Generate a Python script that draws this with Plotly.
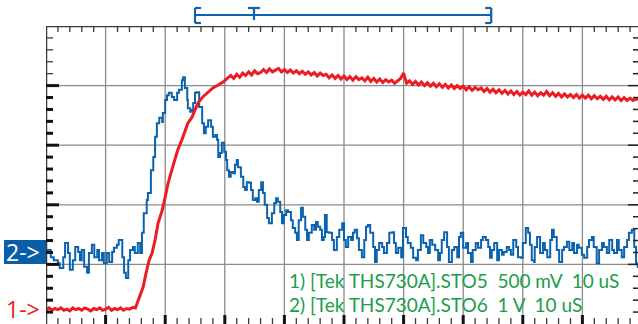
import plotly.graph_objects as go

# ---- data (time in microseconds, amplitude in screen divisions) ----
ch1_t = [0, 0.5, 1, 1.5, 2, 2.5, 3, 3.5, 4, 4.5, 5, 5.5, 6, 6.5, 7, 7.5, 8, 8.5, 9, 9.5,
         10, 10.5, 11, 11.5, 12, 12.5, 13, 13.5, 14, 14.6, 15.0,
         15.6, 16.3, 16.8, 17.3, 17.8, 18.3, 18.8, 19.5, 20.0, 20.5, 21.1, 21.6, 22.1, 22.8,
         23.3, 23.8, 24.5, 25.0, 25.5, 26.3, 27.2, 28.0, 28.9, 29.7, 30.5,
         31.0, 31.5, 32.0, 32.5, 33.0, 33.5, 34.0, 34.5, 35.0, 35.5, 36.0, 36.5, 37.0, 37.5, 38.0, 38.5, 39.0, 39.5,
         40.0, 40.5, 41.0, 41.5, 42.0, 42.5, 43.0, 43.5, 44.0, 44.5, 45.0, 45.5, 46.0, 46.5, 47.0, 47.5, 48.0, 48.5, 49.0, 49.5,
         50.0, 50.5, 51.0, 51.5, 52.0, 52.5, 53.0, 53.5, 54.0, 54.5, 55.0, 55.5, 56.0, 56.5, 57.0, 57.5, 58.0, 58.5, 59.0, 59.5,
         60.0, 60.5, 61.0, 61.5, 62.0, 62.5, 63.0, 63.5, 64.0, 64.5, 65.0, 65.5, 66.0, 66.5, 67.0, 67.5, 68.0, 68.5, 69.0, 69.5,
         70.0, 70.5, 71.0, 71.5, 72.0, 72.5, 73.0, 73.5, 74.0, 74.5, 75.0, 75.5, 76.0, 76.5, 77.0, 77.5, 78.0, 78.5, 79.0, 79.5,
         80.0, 80.5, 81.0, 81.5, 82.0, 82.5, 83.0, 83.5, 84.0, 84.5, 85.0, 85.5, 86.0, 86.5, 87.0, 87.5, 88.0, 88.5, 89.0, 89.5,
         90.0, 90.5, 91.0, 91.5, 92.0, 92.5, 93.0, 93.5, 94.0, 94.5, 95.0, 95.5, 96.0, 96.5, 97.0, 97.5, 98.0, 98.5, 99.0, 99.3]
ch1_v = [0.24, 0.27, 0.23, 0.26, 0.24, 0.27, 0.23, 0.25, 0.22, 0.27, 0.24, 0.26, 0.23, 0.27, 0.25, 0.22, 0.26, 0.24, 0.27, 0.23,
         0.25, 0.28, 0.23, 0.26, 0.24, 0.27, 0.23, 0.26, 0.25, 0.28, 0.27,
         0.44, 0.62, 0.86, 1.07, 1.19, 1.41, 1.69, 1.91, 2.13, 2.37, 2.58, 2.75, 2.92, 3.09,
         3.22, 3.37, 3.47, 3.59, 3.71, 3.81, 3.89, 3.96, 4.01, 4.06, 4.13,
         4.17, 4.12, 4.19, 4.14, 4.21, 4.17, 4.23, 4.18, 4.25, 4.20, 4.22, 4.27, 4.22, 4.28, 4.23, 4.26, 4.29, 4.23,
         4.27, 4.22, 4.26, 4.21, 4.25, 4.20, 4.24, 4.19, 4.23, 4.18, 4.22, 4.16, 4.21, 4.17, 4.19, 4.13, 4.18, 4.12, 4.17, 4.11,
         4.16, 4.10, 4.15, 4.09, 4.15, 4.10, 4.13, 4.08, 4.14, 4.07, 4.12, 4.06, 4.11, 4.05, 4.10, 4.06, 4.09, 4.04, 4.08, 4.12,
         4.21, 4.04, 4.08, 4.02, 4.07, 4.01, 4.06, 4.00, 4.05, 3.99, 4.04, 3.98, 4.03, 3.97, 4.02, 3.96, 4.01, 3.95, 4.00, 3.95,
         3.99, 3.93, 3.98, 3.92, 3.97, 3.93, 3.96, 3.90, 3.95, 3.89, 3.94, 3.88, 3.93, 3.87, 3.92, 3.86, 3.91, 3.85, 3.90, 3.84,
         3.89, 3.85, 3.91, 3.84, 3.89, 3.83, 3.88, 3.84, 3.90, 3.83, 3.88, 3.82, 3.87, 3.81, 3.86, 3.81, 3.85, 3.80, 3.85, 3.79,
         3.84, 3.79, 3.84, 3.78, 3.83, 3.78, 3.82, 3.77, 3.82, 3.76, 3.81, 3.76, 3.81, 3.75, 3.80, 3.75, 3.79, 3.75, 3.78, 3.76]

ch2_t = [0, 0.3, 0.8, 1.3, 2.0, 2.3, 2.9, 3.2, 3.7, 4.0, 4.5, 4.9, 5.4, 5.7, 6.0, 6.4, 6.9, 7.2, 7.7, 8.1,
         8.6, 8.9, 9.4, 9.7, 10.2, 10.6, 11.1, 11.4, 11.9, 12.2, 12.8, 13.1, 13.4, 13.8, 14.1, 14.6, 14.9, 15.4, 15.8, 16.1,
         16.4, 16.9, 17.1, 17.6, 18.0, 18.3, 18.6, 19.0, 19.5, 19.6, 20.0, 20.3, 20.6, 21.1, 21.5, 22.0, 22.3, 22.8, 23.0, 23.3,
         23.7, 23.8, 24.2, 24.5, 24.7, 25.0, 25.3, 25.7, 26.2, 26.5, 26.8, 27.2, 27.7, 28.0, 28.4, 28.7, 28.9, 29.2, 29.5, 29.9,
         30.2, 30.4, 30.7, 31.0, 31.4, 31.7, 32.0, 32.2, 32.7, 33.1, 33.4, 33.7, 34.1, 34.4, 34.7, 35.1, 35.4, 35.7, 36.1, 36.4,
         36.7, 37.1, 37.4, 37.9, 38.3, 38.6, 38.9, 39.3, 39.6, 39.9, 40.3, 40.6, 41.1, 41.4, 41.8, 42.1, 42.4, 42.8, 43.1, 43.5,
         43.8, 44.1, 44.6, 45.0, 45.3, 45.6, 46.0, 46.3, 46.6, 46.8, 47.1, 47.5, 48.0, 48.3, 48.8, 49.2, 49.7, 50.0, 50.3, 50.7,
         51.2, 51.5, 51.8, 52.2, 52.5, 53.0, 53.4, 53.7, 54.0, 54.4, 54.9, 55.2, 55.5, 55.9, 56.4, 56.7, 57.2, 57.6, 58.1, 58.4,
         58.7, 59.1, 59.6, 59.9, 60.4, 60.7, 61.2, 61.6, 62.1, 62.4, 62.9, 63.3, 63.8, 64.1, 64.4, 64.8, 65.3, 65.8, 66.1, 66.4,
         66.8, 67.3, 67.6, 68.1, 68.5, 69.0, 69.3, 69.6, 70.0, 70.5, 70.8, 71.3, 71.6, 72.1, 72.5, 73.0, 73.3, 73.8, 74.2, 74.5,
         74.8, 75.2, 75.7, 76.0, 76.5, 76.8, 77.3, 77.7, 78.0, 78.4, 78.9, 79.2, 79.7, 80.0, 80.5, 80.9, 81.2, 81.5, 81.9, 82.0,
         82.4, 82.9, 83.4, 83.7, 84.1, 84.6, 84.9, 85.2, 85.7, 86.1, 86.6, 86.9, 87.4, 87.8, 88.3, 88.6, 89.1, 89.4, 89.9, 90.3,
         90.8, 91.1, 91.6, 91.9, 92.4, 92.8, 93.3, 93.6, 94.1, 94.5, 95.0, 95.3, 95.8, 96.1, 96.6, 97.0, 97.5, 97.8, 98.3, 98.7,
         99.0, 99.3]
ch2_v = [1.21, 1.24, 1.12, 1.07, 1.02, 0.94, 1.12, 1.36, 1.19, 0.91, 1.07, 1.29, 1.21, 1.07, 1.24, 0.96, 0.86, 1.19, 1.33, 1.12,
         1.24, 1.07, 1.19, 1.02, 1.19, 1.04, 1.21, 1.28, 1.33, 1.41, 1.12, 0.86, 0.77, 1.07, 1.24, 1.29, 1.19, 1.36, 1.19, 1.53,
         1.86, 2.08, 2.20, 2.58, 2.80, 3.14, 3.37, 3.46, 3.39, 3.54, 3.76, 3.84, 3.88, 3.81, 3.76, 3.88, 3.93, 4.09, 4.14, 3.96,
         3.76, 3.62, 3.56, 3.59, 3.71, 3.88, 3.89, 3.64, 3.37, 3.20, 3.31, 3.42, 3.31, 3.14, 3.17, 3.09, 2.80, 2.87, 3.04, 2.89,
         2.75, 2.58, 2.47, 2.55, 2.53, 2.67, 2.75, 2.63, 2.47, 2.30, 2.25, 2.38, 2.37, 2.25, 2.08, 2.11, 2.05, 2.25, 2.38, 2.20,
         2.00, 1.78, 1.69, 1.86, 2.03, 2.11, 2.05, 1.88, 1.69, 1.83, 1.91, 1.88, 1.74, 1.61, 1.53, 1.41, 1.74, 1.95, 1.80, 1.58,
         1.41, 1.53, 1.66, 1.58, 1.71, 1.63, 1.58, 1.41, 1.46, 1.83, 1.54, 1.53, 1.41, 1.24, 1.46, 1.58, 1.69, 1.41, 1.29, 1.46,
         1.41, 1.53, 1.58, 1.44, 1.24, 1.12, 1.41, 1.63, 1.66, 1.53, 1.29, 1.04, 1.24, 1.36, 1.29, 1.19, 1.36, 1.53, 1.54, 1.36,
         1.19, 1.28, 1.12, 1.61, 1.46, 1.36, 1.28, 1.11, 1.07, 1.24, 1.49, 1.36, 1.29, 1.19, 1.41, 1.33, 1.24, 1.07, 1.19, 1.41,
         1.54, 1.29, 1.04, 1.24, 1.29, 1.12, 1.46, 1.53, 1.28, 1.36, 1.19, 1.04, 1.24, 1.36, 1.28, 1.41, 1.46, 1.41, 1.29, 1.11,
         1.24, 1.36, 1.07, 1.24, 1.16, 1.21, 1.29, 1.24, 1.16, 1.41, 1.29, 1.12, 1.11, 1.36, 1.61, 1.53, 1.33, 1.07, 1.04, 1.29,
         1.46, 1.19, 1.36, 1.24, 1.12, 1.41, 1.58, 1.46, 1.24, 1.04, 1.24, 1.29, 1.38, 1.24, 1.36, 1.19, 1.33, 1.28, 1.16, 1.11,
         1.29, 1.41, 1.46, 1.29, 1.02, 1.24, 1.36, 1.29, 1.19, 1.41, 1.24, 1.19, 1.41, 1.24, 1.12, 1.29, 1.41, 1.53, 1.58, 1.29,
         1.02, 0.94]

ch1_ground = 0.25   # "1->" marker level (div)
ch2_ground = 1.21   # "2->" marker level (div)
record_start, record_trigger, record_end = 25.0, 34.9, 74.7   # top record bracket (us)
labels = ["1) [Tek THS730A].STO5\u00a0\u00a0500 mV\u00a0\u00a010 uS",
          "2) [Tek THS730A].STO6\u00a0\u00a01 V\u00a0\u00a010 uS"]

# ---- geometry ----
W, H = 638, 324
L, T = 46, 26
PW, PH = W - L, H - T          # plot area size in px
X_MAX = PW / 5.96              # 5.96 px per microsecond
Y_MAX = 5.0
pxx = X_MAX / PW               # data units per px (x)
pxy = Y_MAX / PH               # data units per px (y)

RED = "#ec1c24"
BLUE = "#0b63b0"
GREEN = "#1a9e4a"
GRID = "#8a8a8a"
DARK = "#3a3a3a"

fig = go.Figure()
fig.add_trace(go.Scatter(x=ch2_t, y=ch2_v, mode="lines",
                         line=dict(color=BLUE, width=2, shape="hv"), hoverinfo="skip"))
fig.add_trace(go.Scatter(x=ch1_t, y=ch1_v, mode="lines",
                         line=dict(color=RED, width=3), hoverinfo="skip"))

shapes = []
# grid
for gx in range(10, 100, 10):
    shapes.append(dict(type="line", xref="x", yref="y", x0=gx, x1=gx, y0=0, y1=Y_MAX,
                       line=dict(color=GRID, width=1.3), layer="below"))
for gy in range(1, 5):
    shapes.append(dict(type="line", xref="x", yref="y", x0=0, x1=X_MAX, y0=gy, y1=gy,
                       line=dict(color=GRID, width=1.3), layer="below"))
# borders (top and left)
shapes.append(dict(type="line", xref="x", yref="y", x0=0, x1=X_MAX, y0=Y_MAX, y1=Y_MAX,
                   line=dict(color=DARK, width=2.5)))
shapes.append(dict(type="line", xref="x", yref="y", x0=0, x1=0, y0=0, y1=Y_MAX,
                   line=dict(color=DARK, width=2.5)))
# top / bottom ticks
for i in range(1, 50):
    tx = i * 2
    if tx > X_MAX:
        break
    major = (i % 5 == 0)
    if not major:
        shapes.append(dict(type="line", xref="x", yref="y", x0=tx, x1=tx, y0=Y_MAX, y1=Y_MAX - 6 * pxy,
                           line=dict(color=DARK, width=1.3)))
    shapes.append(dict(type="line", xref="x", yref="y", x0=tx, x1=tx, y0=0,
                       y1=(9 if major else 6) * pxy,
                       line=dict(color="#111" if major else DARK, width=3 if major else 1.3)))
# left / right ticks
for j in range(1, 25):
    ty = j * 0.2
    major = (j % 5 == 0)
    bold = ty <= 4.01
    shapes.append(dict(type="line", xref="x", yref="y", x0=0, x1=(13 if major else 7) * pxx, y0=ty, y1=ty,
                       line=dict(color="#111" if bold else DARK, width=3 if bold else 1.3)))
    shapes.append(dict(type="line", xref="x", yref="y", x0=X_MAX, x1=X_MAX - (10 if major else 5) * pxx,
                       y0=ty, y1=ty, line=dict(color="#222", width=1.5)))

# record bracket above plot (paper coords)
def px2paper_x(xd):
    return xd / X_MAX
def py2paper(ypx):
    return (H - ypx) / PH

yb_mid = py2paper(15)
yb_top = py2paper(8)
yb_bot = py2paper(23)
xs, xtr, xe = px2paper_x(record_start), px2paper_x(record_trigger), px2paper_x(record_end)
dx5 = 6 / PW
bl = dict(color=BLUE, width=2.2)
shapes += [
    dict(type="line", xref="paper", yref="paper", x0=xs, x1=xe, y0=yb_mid, y1=yb_mid, line=bl),
    dict(type="line", xref="paper", yref="paper", x0=xs, x1=xs, y0=yb_top, y1=yb_bot, line=bl),
    dict(type="line", xref="paper", yref="paper", x0=xs, x1=xs + dx5, y0=yb_top, y1=yb_top, line=bl),
    dict(type="line", xref="paper", yref="paper", x0=xs, x1=xs + dx5, y0=yb_bot, y1=yb_bot, line=bl),
    dict(type="line", xref="paper", yref="paper", x0=xe, x1=xe, y0=yb_top, y1=yb_bot, line=bl),
    dict(type="line", xref="paper", yref="paper", x0=xe, x1=xe - dx5, y0=yb_top, y1=yb_top, line=bl),
    dict(type="line", xref="paper", yref="paper", x0=xe, x1=xe - dx5, y0=yb_bot, y1=yb_bot, line=bl),
    dict(type="line", xref="paper", yref="paper", x0=xtr - dx5, x1=xtr + dx5, y0=yb_top, y1=yb_top, line=bl),
    dict(type="line", xref="paper", yref="paper", x0=xtr, x1=xtr, y0=yb_top, y1=py2paper(20), line=bl),
]
# blue box behind "2->"
shapes.append(dict(type="rect", xref="paper", yref="y", x0=-42 / PW, x1=0,
                   y0=ch2_ground - 12 * pxy, y1=ch2_ground + 12 * pxy,
                   fillcolor="#0a5ea8", line=dict(width=0), layer="above"))

annotations = [
    dict(text="1->", xref="paper", yref="y", x=-4 / PW, y=ch1_ground, xanchor="right", yanchor="middle",
         showarrow=False, font=dict(family="Open Sans", size=23, color=RED)),
    dict(text="2->", xref="paper", yref="y", x=-4 / PW, y=ch2_ground, xanchor="right", yanchor="middle",
         showarrow=False, font=dict(family="Open Sans", size=23, color="white")),
    dict(text=labels[0], xref="paper", yref="paper", x=(287 - L) / PW, y=py2paper(280),
         xanchor="left", yanchor="middle", showarrow=False,
         font=dict(family="Lato", size=19, color=GREEN)),
    dict(text=labels[1], xref="paper", yref="paper", x=(287 - L) / PW, y=py2paper(304),
         xanchor="left", yanchor="middle", showarrow=False,
         font=dict(family="Lato", size=19, color=GREEN)),
]

fig.update_layout(
    width=W, height=H,
    margin=dict(l=L, r=0, t=T, b=0),
    paper_bgcolor="white", plot_bgcolor="white",
    showlegend=False,
    xaxis=dict(range=[0, X_MAX], showgrid=False, zeroline=False, showticklabels=False, ticks=""),
    yaxis=dict(range=[0, Y_MAX], showgrid=False, zeroline=False, showticklabels=False, ticks=""),
    shapes=shapes, annotations=annotations,
)
fig.write_html("out.html", config={"displayModeBar": False},
               post_script="document.body.style.margin='0';document.body.style.overflow='hidden';")
